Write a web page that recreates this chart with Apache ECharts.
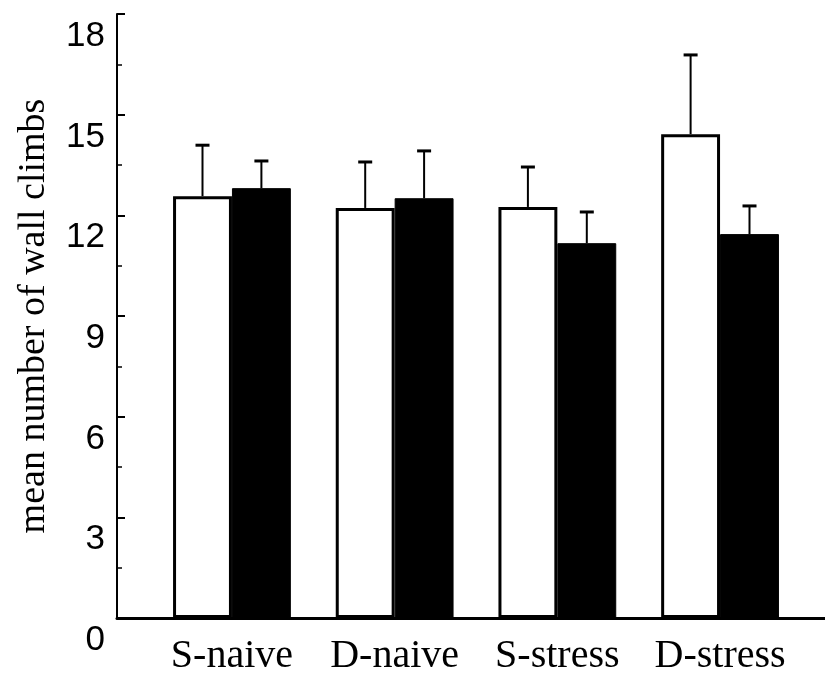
<!DOCTYPE html>
<html>
<head>
<meta charset="utf-8">
<style>
  html, body { margin: 0; padding: 0; background: #ffffff; }
  #chart { width: 825px; height: 682px; }
</style>
<script src="https://cdn.jsdelivr.net/npm/echarts@6/dist/echarts.min.js"></script>
</head>
<body>
<div id="chart"></div>
<script>
// Group labels along the x axis
const categories = ['S-naive', 'D-naive', 'S-stress', 'D-stress'];
// Open bars: means and upper error (SEM)
const whiteMeans = [12.57, 12.22, 12.25, 14.42];
const whiteErr = [1.52, 1.37, 1.19, 2.36];
// Filled bars: means and upper error (SEM)
const blackMeans = [12.81, 12.51, 11.17, 11.44];
const blackErr = [0.81, 1.41, 0.93, 0.84];
// Value axis range and step
const yMin = 0;
const yMax = 18;
const yStep = 3;

const CATEGORY_GAP = 0.276;
const SERIF = '"Liberation Serif", "Times New Roman", serif';
const SANS = '"Liberation Sans", Arial, sans-serif';

// Draws a one-sided (upward) error bar over the white (side=-1) or black (side=+1) bar
function errorRenderer(side) {
  return function (params, api) {
    const i = api.value(0);
    const mean = api.value(1);
    const err = api.value(2);
    const base = api.coord([i, mean]);
    const top = api.coord([i, mean + err]);
    const band = api.size([1, 0])[0];
    const barW = band * (1 - CATEGORY_GAP) / 2;
    const x = base[0] + side * barW / 2;
    const capHalf = 7;
    return {
      type: 'group',
      children: [
        { type: 'line', shape: { x1: x, y1: base[1], x2: x, y2: top[1] },
          style: { stroke: '#000', lineWidth: 2 } },
        { type: 'line', shape: { x1: x - capHalf, y1: top[1], x2: x + capHalf, y2: top[1] },
          style: { stroke: '#000', lineWidth: 3 } }
      ]
    };
  };
}

const chart = echarts.init(document.getElementById('chart'), null, { renderer: 'canvas' });

chart.setOption({
  backgroundColor: '#ffffff',
  animation: false,
  grid: [
    // plotting area for the bars
    { left: 150.6, right: 23.6, top: 14, bottom: 64 },
    // wider area that only carries the baseline
    { left: 117, right: 0, top: 14, bottom: 64 }
  ],
  xAxis: [
    {
      type: 'category',
      gridIndex: 0,
      data: categories,
      axisLine: { show: false },
      axisTick: { show: false },
      axisLabel: { color: '#000', fontFamily: SERIF, fontSize: 40, margin: 18, interval: 0 },
      splitLine: { show: false }
    },
    {
      type: 'value',
      gridIndex: 1,
      min: 0,
      max: 1,
      axisLine: { show: true, lineStyle: { color: '#000', width: 3 } },
      axisTick: { show: false },
      axisLabel: { show: false },
      splitLine: { show: false }
    }
  ],
  yAxis: [
    {
      type: 'value',
      gridIndex: 0,
      min: yMin,
      max: yMax,
      interval: yStep,
      offset: 33.6,
      name: 'mean number of wall climbs',
      nameLocation: 'middle',
      nameGap: 64,
      nameTextStyle: { color: '#000', fontFamily: SERIF, fontSize: 38 },
      axisLine: { show: true, lineStyle: { color: '#000', width: 2 } },
      axisTick: { show: true, inside: true, length: 8, lineStyle: { color: '#000', width: 2 } },
      minorTick: { show: true, splitNumber: 2, length: 5, lineStyle: { color: '#000', width: 1.5 } },
      axisLabel: {
        color: '#000', fontFamily: SANS, fontSize: 35, margin: 12,
        verticalAlign: 'top', padding: [5, 0, 0, 0]
      },
      splitLine: { show: false },
      minorSplitLine: { show: false }
    },
    {
      type: 'value',
      gridIndex: 1,
      min: yMin,
      max: yMax,
      show: false
    }
  ],
  series: [
    {
      type: 'bar',
      xAxisIndex: 0,
      yAxisIndex: 0,
      data: whiteMeans,
      barGap: '0%',
      barCategoryGap: (CATEGORY_GAP * 100) + '%',
      itemStyle: { color: '#ffffff', borderColor: '#000', borderWidth: 3 },
      z: 2
    },
    {
      type: 'bar',
      xAxisIndex: 0,
      yAxisIndex: 0,
      data: blackMeans,
      barGap: '0%',
      barCategoryGap: (CATEGORY_GAP * 100) + '%',
      itemStyle: { color: '#000000', borderColor: '#000', borderWidth: 1 },
      z: 2
    },
    {
      type: 'custom',
      xAxisIndex: 0,
      yAxisIndex: 0,
      renderItem: errorRenderer(-1),
      encode: { x: 0, y: 1 },
      data: categories.map((c, i) => [i, whiteMeans[i], whiteErr[i]]),
      z: 3
    },
    {
      type: 'custom',
      xAxisIndex: 0,
      yAxisIndex: 0,
      renderItem: errorRenderer(1),
      encode: { x: 0, y: 1 },
      data: categories.map((c, i) => [i, blackMeans[i], blackErr[i]]),
      z: 3
    }
  ]
});
</script>
</body>
</html>
